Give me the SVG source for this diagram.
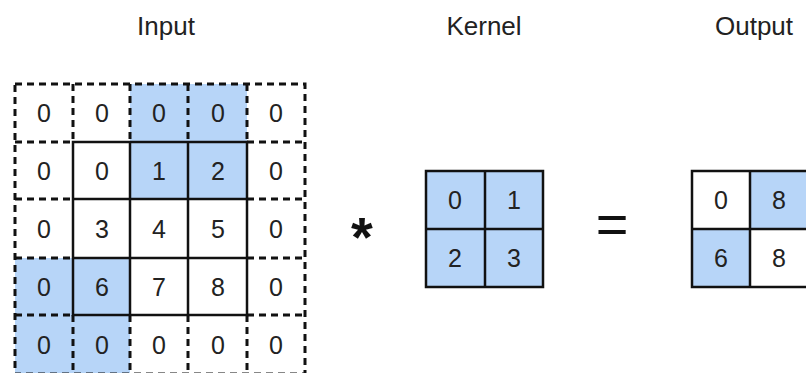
<svg xmlns="http://www.w3.org/2000/svg" width="806" height="373" viewBox="0 0 806 373">
  <style>
    .title { font-family: "Liberation Sans", Arial, sans-serif; font-size: 26px; fill: #222; text-anchor: middle; }
    .num { font-family: "Liberation Sans", Arial, sans-serif; font-size: 25px; fill: #222; text-anchor: middle; }
    .op { font-family: "Liberation Sans", Arial, sans-serif; font-size: 56px; fill: #111; text-anchor: middle; }
    .blue { fill: #b7d5f8; }
    .solid { stroke: #111; stroke-width: 2.5; fill: none; }
    .dash { stroke: #111; stroke-width: 3; fill: none; stroke-dasharray: 7 5; }
  </style>

  <rect width="806" height="373" fill="#ffffff"/>

  <!-- headers -->
  <text class="title" x="166" y="35">Input</text>
  <text class="title" x="484" y="35">Kernel</text>
  <text class="title" x="754" y="35">Output</text>

  <!-- padded 5x5 input -->
  <g id="input">
    <rect class="blue" x="130" y="84" width="117" height="115"/>
    <rect class="blue" x="15" y="258" width="115" height="115"/>
    <!-- padding lines -->
    <rect class="dash" x="15" y="84" width="290" height="290"/>
    <path class="dash" d="M73 84V142M130 84V142M188 84V142M247 84V142
                         M73 315V373M130 315V373M188 315V373M247 315V373
                         M15 142H73M15 199H73M15 258H73M15 315H73
                         M247 142H305M247 199H305M247 258H305M247 315H305"/>
    <!-- original 3x3 block -->
    <rect class="solid" x="73" y="142" width="174" height="173"/>
    <path class="solid" d="M130 142V315M188 142V315M73 199H247M73 258H247"/>
    <g class="num">
      <text x="44" y="122">0</text><text x="102" y="122">0</text><text x="159" y="122">0</text><text x="218" y="122">0</text><text x="276" y="122">0</text>
      <text x="44" y="180">0</text><text x="102" y="180">0</text><text x="159" y="180">1</text><text x="218" y="180">2</text><text x="276" y="180">0</text>
      <text x="44" y="238">0</text><text x="102" y="238">3</text><text x="159" y="238">4</text><text x="218" y="238">5</text><text x="276" y="238">0</text>
      <text x="44" y="296">0</text><text x="102" y="296">6</text><text x="159" y="296">7</text><text x="218" y="296">8</text><text x="276" y="296">0</text>
      <text x="44" y="354">0</text><text x="102" y="354">0</text><text x="159" y="354">0</text><text x="218" y="354">0</text><text x="276" y="354">0</text>
    </g>
  </g>

  <!-- operators -->
  <text id="star" class="op" x="362" y="256" font-weight="bold">*</text>
  <text id="equals" class="op" x="612" y="243">=</text>

  <!-- 2x2 kernel -->
  <g id="kernel">
    <rect class="blue" x="426" y="171" width="117" height="116"/>
    <rect class="solid" x="426" y="171" width="117" height="116"/>
    <path class="solid" d="M485 171V287M426 229H543"/>
    <g class="num">
      <text x="455" y="209">0</text><text x="514" y="209">1</text>
      <text x="455" y="267">2</text><text x="514" y="267">3</text>
    </g>
  </g>

  <!-- 2x2 output -->
  <g id="output">
    <rect class="blue" x="750" y="171" width="58" height="58"/>
    <rect class="blue" x="692" y="229" width="58" height="58"/>
    <rect class="solid" x="692" y="171" width="116" height="116"/>
    <path class="solid" d="M750 171V287M692 229H808"/>
    <g class="num">
      <text x="721" y="209">0</text><text x="779" y="209">8</text>
      <text x="721" y="267">6</text><text x="779" y="267">8</text>
    </g>
  </g>
</svg>
